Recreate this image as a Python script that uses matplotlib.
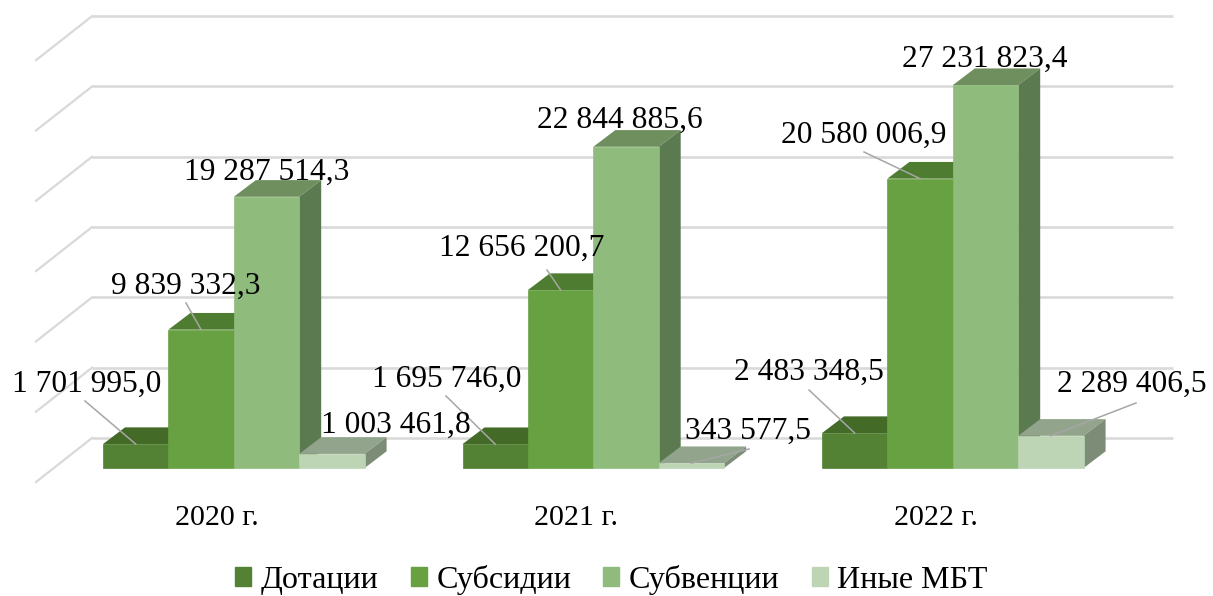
import numpy as np
import matplotlib
matplotlib.use("Agg")
import matplotlib.pyplot as plt
from matplotlib.patches import Patch

plt.rcParams['font.family'] = ['Liberation Serif', 'DejaVu Serif']

years = ["2020 г.", "2021 г.", "2022 г."]
series = ["Дотации", "Субсидии", "Субвенции", "Иные МБТ"]
dotacii = [1701995.0, 1695746.0, 2483348.5]
subsidii = [9839332.3, 12656200.7, 20580006.9]
subvencii = [19287514.3, 22844885.6, 27231823.4]
inye = [1003461.8, 343577.5, 2289406.5]
grid_values = [0, 5e6, 10e6, 15e6, 20e6, 25e6, 30e6]

values = [dotacii, subsidii, subvencii, inye]

front_colors = ["#548235", "#68A142", "#8FBC7C", "#BDD5B5"]
top_colors = ["#436A27", "#4E7C30", "#6F8F5E", "#92A48B"]
side_colors = ["#3F6527", "#4E7A31", "#5C7A50", "#7D8C76"]

W, H = 1213, 596
BASE = 468           # pixel row of the value 0 on the bar fronts
PX_PER_VALUE = 14.06 / 1e6
BAR_W = 65.4
GROUP_STEP = 359.5
GROUP_LEFT = 103
DX, DY = 22, 16.7 / PX_PER_VALUE

fig = plt.figure(figsize=(W / 100, H / 100), dpi=100)
ax = fig.add_axes([0, 0, 1, 1])
ax.set_xlim(0, W)
ax.set_ylim(-(H - BASE) / PX_PER_VALUE, BASE / PX_PER_VALUE)
ax.axis("off")


def row(pixel_y):
    # pixel row of the picture -> value on the y axis
    return (BASE - pixel_y) / PX_PER_VALUE


# back wall and floor lines
wall_back = 30 / PX_PER_VALUE
wall_front = -14 / PX_PER_VALUE
for v in grid_values:
    ax.plot([92, 1173], [v + wall_back] * 2, color="#DADADA", lw=1.9, zorder=1,
            solid_capstyle="butt")
    ax.plot([36, 92], [v + wall_front, v + wall_back], color="#D9D9D9", lw=1.6, zorder=1)

# bars, left to right so that each front hides the side of the bar before it
z = 2
for g in range(len(years)):
    for s in range(len(series)):
        v = values[s][g]
        x0 = GROUP_LEFT + g * GROUP_STEP + s * BAR_W
        x1 = x0 + BAR_W
        ax.fill([x0, x1, x1 + DX, x0 + DX], [v, v, v + DY, v + DY],
                color=top_colors[s], lw=0, zorder=z)
        ax.fill([x1, x1 + DX, x1 + DX, x1], [0, DY, v + DY, v],
                color=side_colors[s], lw=0, zorder=z)
        ax.bar(x0, v, width=BAR_W, align="edge", color=front_colors[s],
               edgecolor=front_colors[s], lw=0.5, zorder=z + 1)
        z += 2

# data labels, text centres as placed in the picture
label_x = [[87, 186, 267, 396], [447, 522, 620, 748], [809, 864, 985, 1132]]
label_y = [[384, 286, 172, 425], [379, 248, 120, 431], [372, 135, 59, 384]]
leader_x = [[85, 186, None, None], [446, 547, None, 749], [809, 864, None, 1136]]
leader_y = [[401, 303, None, None], [396, 270, None, 449], [390, 152, None, 403]]

for g in range(len(years)):
    for s in range(len(series)):
        v = values[s][g]
        txt = f"{v:,.1f}".replace(",", " ").replace(".", ",")
        if leader_x[g][s] is not None:
            xc = GROUP_LEFT + g * GROUP_STEP + (s + 0.5) * BAR_W
            ax.plot([leader_x[g][s], xc], [row(leader_y[g][s]), v],
                    color="#A6A6A6", lw=1.1, zorder=100)
        ax.text(label_x[g][s], row(label_y[g][s]), txt, ha="center", va="center",
                fontsize=22.7, color="black", zorder=101)

for g, year in enumerate(years):
    ax.text(217 + g * GROUP_STEP, row(518), year, ha="center", va="center",
            fontsize=21.6, color="black")

handles = [Patch(color=c) for c in front_colors]
ax.legend(handles, series, ncol=4, loc="center", bbox_to_anchor=(611.5 / W, 1 - 580 / H),
          frameon=False, fontsize=23.1, handlelength=0.5, handleheight=0.5,
          handletextpad=0.3, columnspacing=1.0, borderpad=0, borderaxespad=0)

fig.savefig("out.png", dpi=100)
